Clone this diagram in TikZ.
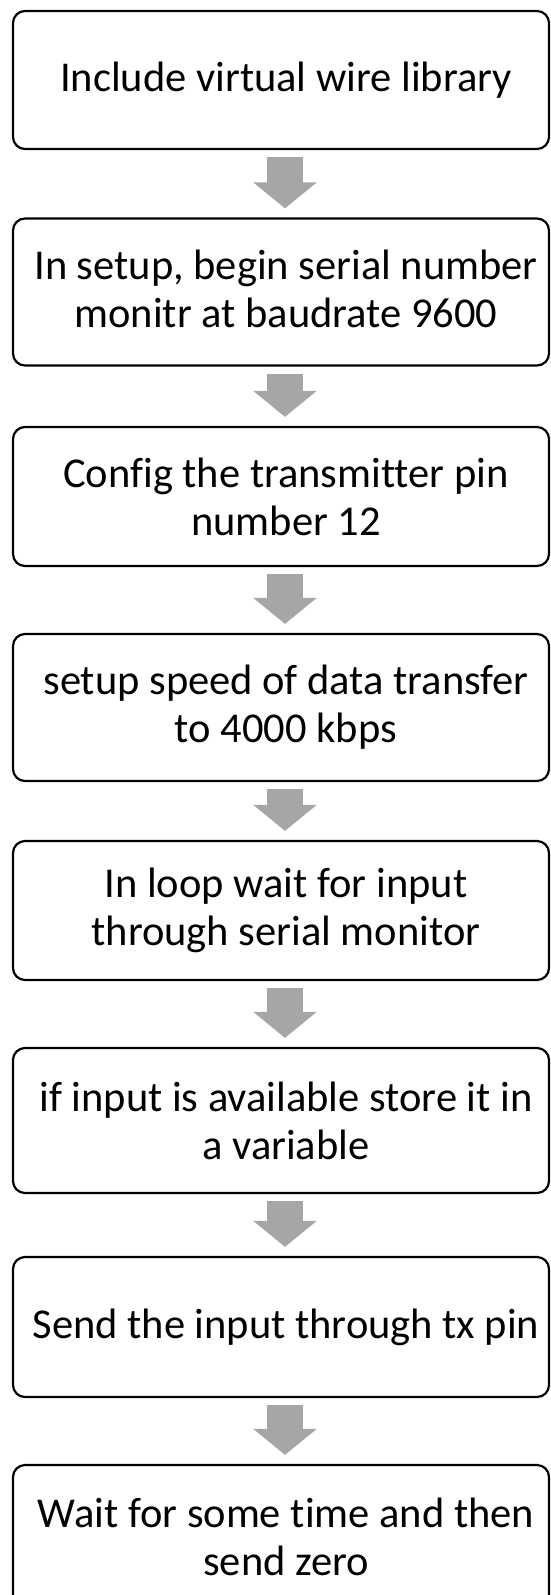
\documentclass[tikz,border=0pt]{standalone}
\usepackage{fontspec}
\setmainfont{Carlito}[Ligatures=NoCommon]
\usepackage{tikz}
\usetikzlibrary{arrows.meta,positioning}
\definecolor{flowgray}{RGB}{166,166,166}

\begin{document}
\begin{tikzpicture}[x=1pt,y=-1pt,
    stepbox/.style={draw,line width=2.2pt,rounded corners=12pt,minimum width=536pt,inner sep=0pt},
    steptext/.style={align=center,inner sep=0pt,font=\fontsize{42.5}{48}\selectfont},
    flowarrow/.style={draw=flowgray,line width=36pt,-{Triangle[width=62pt,length=26pt]}}]
    \useasboundingbox (0,0) rectangle (550,1595);
    \clip (0,0) rectangle (550,1595);
    \node[stepbox,minimum height=138pt] (s1) at (281,80) {};
    \node[stepbox,minimum height=147pt] (s2) at (281,292) {};
    \node[stepbox,minimum height=139pt] (s3) at (281,496.5) {};
    \node[stepbox,minimum height=147pt] (s4) at (281,707.5) {};
    \node[stepbox,minimum height=139pt] (s5) at (281,910.5) {};
    \node[stepbox,minimum height=145pt] (s6) at (281,1120.5) {};
    \node[stepbox,minimum height=140pt] (s7) at (281,1327) {};
    \node[stepbox,minimum height=144pt] (s8) at (281,1537) {};
    % texts sit a little right of the box centres
    \node[steptext] (t1) at ([xshift=5pt]s1.center) {Include virtual wire library};
    \node[steptext] (t2) at ([xshift=5pt,yshift=3pt]s2.center) {In setup, begin serial number\\monitr at baudrate 9600};
    \node[steptext] (t3) at ([xshift=5pt]s3.center) {Config the transmitter pin\\number 12};
    \node[steptext] (t4) at ([xshift=5pt]s4.center) {setup speed of data transfer\\to 4000 kbps};
    \node[steptext] (t5) at ([xshift=5pt]s5.center) {In loop wait for input\\through serial monitor};
    \node[steptext] (t6) at ([xshift=5pt]s6.center) {if input is available store it in\\a variable};
    \node[steptext] (t7) at ([xshift=5pt]s7.center) {Send the input through tx pin};
    \node[steptext] (t8) at ([xshift=5pt]s8.center) {Wait for some time and then\\send zero};
    \foreach \a/\b in {s1/s2,s2/s3,s3/s4,s4/s5,s5/s6,s6/s7,s7/s8}
      \draw[flowarrow] ([xshift=4pt,yshift=-7pt]\a.south) -- ([xshift=4pt,yshift=9pt]\b.north);
\end{tikzpicture}
\end{document}
